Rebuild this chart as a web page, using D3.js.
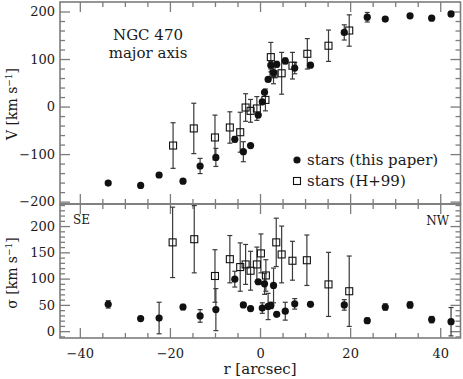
<!DOCTYPE html>
<html>
<head>
<meta charset="utf-8">
<script src="https://cdn.jsdelivr.net/npm/d3@7"></script>
<style>
  body { margin: 0; background: #fff; }
  svg text { font-family: "DejaVu Serif", serif; fill: #1a1a1a; }
</style>
</head>
<body>
<svg id="chart"></svg>
<script>
// stars (this paper): radius, velocity, dispersion
const rStars = [-33.7, -26.5, -22.4, -17.1, -13.3, -9.8, -5.6, -3.7, -2.1, -0.4, 0.5, 1.0, 1.8, 2.4, 3.0, 3.7, 5.6, 7.7, 11.2, 18.7, 23.8, 27.8, 33.3, 38.1, 42.4];
const vStars = [-161, -166, -144, -157, -125, -107, -69, -95, -82, -18, 10, 30, 57, 87, 71, 89, 96, 81, 87, 156, 188, 184, 191, 186, 195];
const vStarsErr = [4, 4, 4, 4, 16, 19, 6, 21, 3, 4, 4, 4, 4, 8, 8, 6, 6, 12, 4, 16, 10, 4, 4, 4, 4];
const sStars = [51, 24, 25, 46, 29, 41, 99, 50, 43, 94, 44, 90, 47, 49, 87, 32, 38, 52, 51, 50, 20, 46, 50, 22, 18];
const sStarsErr = [7, 4, 30, 5, 12, 40, 15, 4, 4, 4, 10, 20, 25, 6, 33, 4, 17, 10, 4, 10, 5, 6, 6, 6, 27];

// stars (H+99)
const rH99V = [-19.3, -14.7, -10.0, -6.7, -4.4, -3.2, -2.1, -0.7, 1.2, 2.4, 3.0, 4.8, 7.2, 10.5, 15.2, 19.8];
const vH99 = [-82, -46, -65, -44, -54, -2, -9, -4, 14, 104, 68, 70, 86, 111, 128, 160];
const vH99Err = [48, 53, 47, 33, 42, 29, 24, 25, 23, 31, 20, 44, 28, 32, 33, 33];
const rH99S = [-19.4, -14.6, -10.0, -6.7, -4.4, -3.2, -2.1, -0.7, 0.2, 1.3, 3.6, 4.8, 7.2, 10.4, 15.2, 19.8];
const sH99 = [169, 175, 105, 137, 122, 127, 115, 127, 148, 106, 169, 146, 134, 135, 89, 76];
const sH99Err = [67, 64, 50, 45, 46, 38, 37, 33, 37, 30, 46, 54, 37, 48, 61, 67];

const xTicks = [-40, -20, 0, 20, 40];
const vTicks = [-200, -100, 0, 100, 200];
const sTicks = [0, 50, 100, 150, 200];

const width = 463, height = 379;
const plotLeft = 60, plotRight = 460.5, plotTop = 2, plotMid = 204, plotBottom = 338;
const frameColor = "#7c7c7c";

const svg = d3.select("#chart").attr("width", width).attr("height", height);

const x = d3.scaleLinear().domain([-44.4, 44.5]).range([plotLeft, plotRight]);
const yV = d3.scaleLinear().domain([-205, 220]).range([plotMid, plotTop]);
const yS = d3.scaleLinear().domain([-13, 242]).range([plotBottom, plotMid]);

function styleAxis(g) {
    g.selectAll("path").remove();
    g.selectAll("line").attr("stroke", frameColor).attr("stroke-width", 1.3);
    g.selectAll("text").style("font-size", "13px").attr("fill", "#1a1a1a");
}

// draws one panel: frame, ticks, error bars and markers
function drawPanel(yScale, majors, minorStep, rA, vA, eA, rB, vB, eB, showX) {
    const y0 = yScale.range()[1], y1 = yScale.range()[0];
    const [d0, d1] = yScale.domain();
    const minors = d3.range(Math.ceil(d0 / minorStep) * minorStep, d1, minorStep)
        .filter(v => !majors.includes(v));
    const xMinor = d3.range(-40, 45, 5).filter(v => !xTicks.includes(v));

    // y axes (left with labels, right mirrored)
    svg.append("g").attr("transform", `translate(${plotLeft},0)`)
        .call(d3.axisLeft(yScale).tickValues(majors).tickSize(-10).tickPadding(5).tickFormat(d3.format("d")))
        .call(styleAxis);
    svg.append("g").attr("transform", `translate(${plotLeft},0)`)
        .call(d3.axisLeft(yScale).tickValues(minors).tickSize(-5).tickFormat(""))
        .call(styleAxis);
    svg.append("g").attr("transform", `translate(${plotRight},0)`)
        .call(d3.axisRight(yScale).tickValues(majors).tickSize(-10).tickFormat(""))
        .call(styleAxis);
    svg.append("g").attr("transform", `translate(${plotRight},0)`)
        .call(d3.axisRight(yScale).tickValues(minors).tickSize(-5).tickFormat(""))
        .call(styleAxis);

    // x axes at top and bottom of the panel
    svg.append("g").attr("transform", `translate(0,${y0})`)
        .call(d3.axisTop(x).tickValues(xTicks).tickSize(-10).tickFormat(""))
        .call(styleAxis);
    svg.append("g").attr("transform", `translate(0,${y0})`)
        .call(d3.axisTop(x).tickValues(xMinor).tickSize(-5).tickFormat(""))
        .call(styleAxis);
    svg.append("g").attr("transform", `translate(0,${y1})`)
        .call(d3.axisBottom(x).tickValues(xTicks).tickSize(-10).tickPadding(11)
            .tickFormat(showX ? d3.format("d") : ""))
        .call(styleAxis);
    svg.append("g").attr("transform", `translate(0,${y1})`)
        .call(d3.axisBottom(x).tickValues(xMinor).tickSize(-5).tickFormat(""))
        .call(styleAxis);

    svg.append("rect")
        .attr("x", plotLeft).attr("y", y0)
        .attr("width", plotRight - plotLeft).attr("height", y1 - y0)
        .attr("fill", "none").attr("stroke", frameColor).attr("stroke-width", 1.6);

    const g = svg.append("g");
    const drawErr = (rs, vs, es, color) => {
        rs.forEach((r, i) => {
            const cx = x(r), ya = yScale(vs[i] - es[i]), yb = yScale(vs[i] + es[i]);
            g.append("line").attr("x1", cx).attr("x2", cx).attr("y1", ya).attr("y2", yb)
                .attr("stroke", color).attr("stroke-width", 1.2);
            [ya, yb].forEach(yy => g.append("line")
                .attr("x1", cx - 2.5).attr("x2", cx + 2.5).attr("y1", yy).attr("y2", yy)
                .attr("stroke", color).attr("stroke-width", 1.2));
        });
    };
    drawErr(rB, vB, eB, "#3a3a3a");
    drawErr(rA, vA, eA, "#3a3a3a");

    rB.forEach((r, i) => {
        g.append("rect")
            .attr("x", x(r) - 3.5).attr("y", yScale(vB[i]) - 3.5)
            .attr("width", 7).attr("height", 7)
            .attr("fill", "none").attr("stroke", "#111").attr("stroke-width", 1.1);
    });
    rA.forEach((r, i) => {
        g.append("circle")
            .attr("cx", x(r)).attr("cy", yScale(vA[i])).attr("r", 3.6)
            .attr("fill", "#111");
    });
}

drawPanel(yV, vTicks, 20, rStars, vStars, vStarsErr, rH99V, vH99, vH99Err, false);
drawPanel(yS, sTicks, 10, rStars, sStars, sStarsErr, rH99S, sH99, sH99Err, true);

// annotations
svg.append("text").attr("x", 148).attr("y", 40).attr("text-anchor", "middle")
    .style("font-size", "15px").text("NGC 470");
svg.append("text").attr("x", 148).attr("y", 58).attr("text-anchor", "middle")
    .style("font-size", "15px").text("major axis");

svg.append("circle").attr("cx", 297).attr("cy", 160).attr("r", 3.6).attr("fill", "#111");
svg.append("text").attr("x", 307).attr("y", 165).style("font-size", "15px").text("stars (this paper)");
svg.append("rect").attr("x", 293.5).attr("y", 177.5).attr("width", 7).attr("height", 7)
    .attr("fill", "none").attr("stroke", "#111").attr("stroke-width", 1.1);
svg.append("text").attr("x", 307).attr("y", 186).style("font-size", "15px").text("stars (H+99)");

svg.append("text").attr("x", 73).attr("y", 224).style("font-size", "12px").text("SE");
svg.append("text").attr("x", 449).attr("y", 225).attr("text-anchor", "end")
    .style("font-size", "12px").text("NW");

// axis titles
svg.append("text").attr("x", 260).attr("y", 374).attr("text-anchor", "middle")
    .style("font-size", "15px").text("r [arcsec]");

function yTitle(sym, cx, cy) {
    const t = svg.append("text").attr("transform", `translate(${cx},${cy}) rotate(-90)`)
        .attr("text-anchor", "middle").style("font-size", "14px");
    t.append("tspan").text(sym + " [km s");
    t.append("tspan").attr("dy", -5).style("font-size", "9px").text("−1");
    t.append("tspan").attr("dy", 5).text("]");
}
yTitle("V", 17, 104);
yTitle("σ", 17, 273);
</script>
</body>
</html>
